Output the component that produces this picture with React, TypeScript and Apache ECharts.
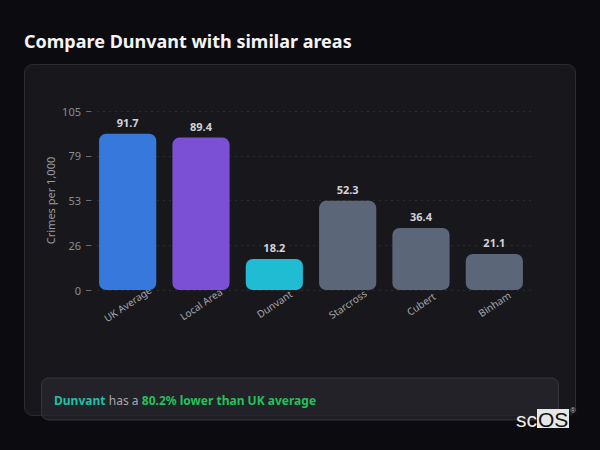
import React, { useEffect, useRef } from 'react';
import * as echarts from 'echarts';

// Crime rates per 1,000 residents
const categories = ['UK Average', 'Local Area', 'Dunvant', 'Starcross', 'Cubert', 'Binham'];
const values = [91.7, 89.4, 18.2, 52.3, 36.4, 21.1];
const barColors = ['#3678db', '#7b50d5', '#20bcd3', '#5b6679', '#5b6679', '#5b6679'];
const yMax = 105;
const yStep = 26.25;

const FONT = '"Noto Sans", "Open Sans", sans-serif';

export default function App() {
  const chartRef = useRef<HTMLDivElement>(null);

  useEffect(() => {
    document.body.style.margin = '0';
    if (!chartRef.current) return;
    const chart = echarts.init(chartRef.current, null, { renderer: 'svg' });

    const option: any = {
      animation: false,
      backgroundColor: '#0c0b10',
      textStyle: { fontFamily: FONT },
      grid: { left: 91, right: 69, top: 111, bottom: 160 },
      xAxis: {
        type: 'category',
        data: categories,
        axisLine: { show: false },
        axisTick: { show: false },
        axisLabel: {
          rotate: 34,
          align: 'center',
          verticalAlign: 'middle',
          margin: 14,
          fontSize: 10,
          color: '#a6a6ae',
          interval: 0,
        },
      },
      yAxis: {
        type: 'value',
        min: 0,
        max: yMax,
        interval: yStep,
        name: 'Crimes per 1,000',
        nameLocation: 'middle',
        nameGap: 35,
        nameMoveOverlap: false,
        nameTextStyle: { fontSize: 11, color: '#9a9aa2' },
        axisLine: { show: false },
        axisTick: { show: true, length: 5, lineStyle: { color: '#6b6b72' } },
        axisLabel: {
          fontSize: 11,
          color: '#8c8c94',
          margin: 10,
          formatter: (v: number) => String(Math.round(v)),
        },
        splitLine: { lineStyle: { color: '#2a2a30', type: [2, 4] } },
      },
      series: [
        {
          type: 'bar',
          barWidth: '78%',
          data: values.map((v, i) => ({ value: v, itemStyle: { color: barColors[i] } })),
          itemStyle: { borderRadius: 7 },
          label: {
            show: true,
            position: 'top',
            distance: 6,
            fontSize: 11,
            fontWeight: 'bold',
            color: '#d2d2d8',
          },
        },
      ],
      graphic: [
        {
          type: 'rect',
          z: -10,
          shape: { x: 24.5, y: 64.5, width: 551, height: 351, r: 8 },
          style: { fill: '#18181c', stroke: '#2c2c31', lineWidth: 1 },
        },
        {
          type: 'text',
          x: 24,
          y: 41,
          style: {
            text: 'Compare Dunvant with similar areas',
            font: `bold 18px ${FONT}`,
            fill: '#f4f4f6',
            verticalAlign: 'middle',
          },
        },
        {
          type: 'rect',
          z: 50,
          shape: { x: 41.5, y: 378, width: 517, height: 42, r: 7 },
          style: { fill: 'rgba(38,38,44,0.75)', stroke: '#34343a', lineWidth: 1 },
        },
        {
          type: 'text',
          z: 51,
          x: 54,
          y: 400,
          style: {
            text: '{a|Dunvant} {b|has a} {c|80.2% lower than UK average}',
            verticalAlign: 'middle',
            rich: {
              a: { fontSize: 12, fontWeight: 'bold', fill: '#1fc1a6', fontFamily: FONT },
              b: { fontSize: 12, fill: '#a8a8b0', fontFamily: FONT },
              c: { fontSize: 12, fontWeight: 'bold', fill: '#23c25a', fontFamily: FONT },
            },
          },
        },
        // watermark logo
        {
          type: 'rect',
          z: 60,
          shape: { x: 537, y: 409, width: 32, height: 19 },
          style: { fill: '#e6e6e6' },
        },
        {
          type: 'text',
          z: 61,
          x: 516,
          y: 419,
          style: {
            text: 'sc',
            font: '21px "Liberation Sans", Arial, sans-serif',
            fill: '#ececec',
            verticalAlign: 'middle',
          },
        },
        {
          type: 'text',
          z: 61,
          x: 538,
          y: 419,
          style: {
            text: 'OS',
            font: '21px "Liberation Sans", Arial, sans-serif',
            fill: '#111111',
            verticalAlign: 'middle',
          },
        },
        {
          type: 'text',
          z: 61,
          x: 570,
          y: 410,
          style: {
            text: '®',
            font: '8px "Liberation Sans", Arial, sans-serif',
            fill: '#bbbbbb',
            verticalAlign: 'middle',
          },
        },
      ],
    };

    chart.setOption(option);
    return () => {
      chart.dispose();
    };
  }, []);

  return <div ref={chartRef} style={{ width: 600, height: 450 }} />;
}
